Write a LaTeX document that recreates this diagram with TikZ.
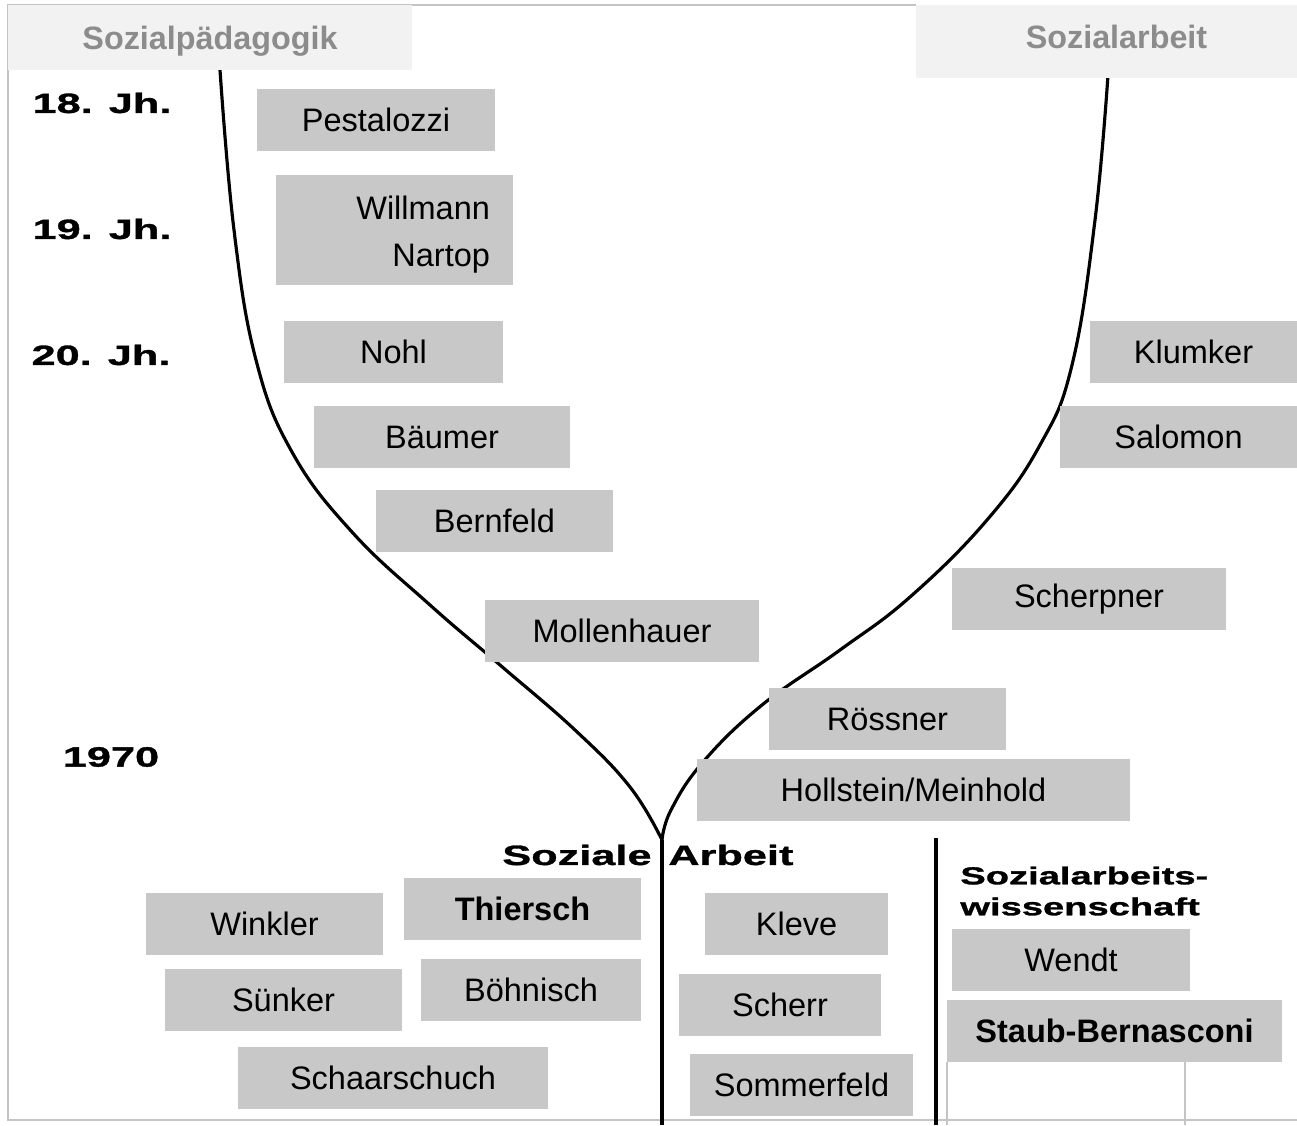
\documentclass[tikz,border=0pt]{standalone}
\usepackage{fontspec}
\usepackage{tikz}
\setmainfont{Liberation Sans}
\newfontfamily\scanfont[FakeStretch=1.55, FakeBold=1.2]{Liberation Sans}
\definecolor{boxgray}{HTML}{C8C8C8}
\definecolor{headgray}{HTML}{F2F2F2}
\definecolor{headtext}{HTML}{8C8C8C}
\definecolor{framegray}{HTML}{C4C4C4}
\tikzstyle{person}=[rectangle, fill=boxgray, inner sep=0pt, minimum height=1.24cm, font=\fontsize{18.5}{22}\selectfont]
\tikzstyle{headbox}=[rectangle, fill=headgray, inner sep=0pt, text=headtext, text height=13.2pt, font=\fontsize{18.4}{22}\selectfont\bfseries]
\tikzstyle{era}=[inner sep=0pt, font=\scanfont\bfseries\fontsize{15.9}{19}\selectfont]
\tikzstyle{branch}=[line width=1.8pt, line cap=round, line join=round]

\begin{document}
\begin{tikzpicture}[x=0.02cm, y=-0.02cm]
    \useasboundingbox (0,0) rectangle (1297,1125);
    \draw[framegray, line width=0.6pt] (916,5) -- (8,5) -- (8,1120) -- (1297,1120);
    \draw[framegray, line width=0.6pt] (947,1125) -- (947,1062) (1185,1062) -- (1185,1125);
    % the two branches meet in the fork
    \coordinate (topL) at (220,70);
    \coordinate (topR) at (1108,75);
    \coordinate (fork) at (662,840);
    \coordinate (root) at (662,1125);
    \coordinate (divtop) at (936,838);
    \coordinate (divbot) at (936,1125);
    \draw[branch] plot[smooth, tension=0.7] coordinates {
        (topL) (234,230) (256,360) (292,452) (352,532) (430,605)
        (500,665) (575,730) (630,787) (fork)};
    \draw[branch] plot[smooth, tension=0.7] coordinates {
        (topR) (1095,220) (1072,365) (1040,445) (987,520) (910,597)
        (840,650) (762,705) (703,762) (671,810) (fork)};
    \draw[line width=2.3pt] (fork) -- (root);
    \draw[line width=1.8pt] (divtop) -- (divbot);
    % headings
    \node[headbox, minimum width=8.08cm, minimum height=1.30cm, text depth=0pt] (hdL) at (210,37.5) {Sozialpädagogik};
    \node[headbox, minimum width=7.62cm, minimum height=1.46cm, text depth=5.1pt, text width=7.62cm, align=center] (hdR) at (1106.5,41.5) {\hspace*{0.4cm}Sozialarbeit};
    % time axis
    \node[era] (e18) at (102,103) {18. Jh.};
    \node[era] (e19) at (102,229) {19. Jh.};
    \node[era] (e20) at (101,355) {20. Jh.};
    \node[era] (e70) at (111,757) {1970};
    \node[era, anchor=west] (sa) at (502,855) {Soziale\hspace{0.6em}Arbeit};
    \node[era, anchor=west, align=left, font=\scanfont\bfseries\fontsize{14}{17.6}\selectfont] (saw) at (960,891) {Sozialarbeits-\\wissenschaft};
    % left branch
    \node[person, minimum width=4.76cm] (pest) at (376,120) {Pestalozzi};
    \node[person, minimum width=4.74cm, minimum height=2.2cm, text width=3.82cm, inner xsep=0.46cm, align=right, text depth=25pt, font=\fontsize{18.5}{26.6}\selectfont] (will) at (394.5,230) {Willmann\\Nartop};
    \node[person, minimum width=4.38cm] (nohl) at (393.5,352) {Nohl};
    \node[person, minimum width=5.12cm] (baum) at (442,437) {Bäumer};
    \node[person, minimum width=4.74cm] (bern) at (494.5,521) {Bernfeld};
    \node[person, minimum width=5.48cm] (moll) at (622,631) {Mollenhauer};
    % right branch
    \node[person, minimum width=4.14cm] (klum) at (1193.5,352) {Klumker};
    \node[person, minimum width=4.74cm] (salo) at (1178.5,437) {Salomon};
    \node[person, minimum width=5.48cm] (schp) at (1089,599) {Scherpner};
    \node[person, minimum width=4.74cm] (roes) at (887.5,719) {Rössner};
    \node[person, minimum width=8.66cm] (holl) at (913.5,790) {Hollstein/Meinhold};
    % below the fork
    \node[person, minimum width=4.74cm] (wink) at (264.5,924) {Winkler};
    \node[person, minimum width=4.74cm, font=\fontsize{18.5}{22}\selectfont\bfseries] (thie) at (522.5,909) {Thiersch};
    \node[person, minimum width=4.74cm] (sunk) at (283.5,1000) {Sünker};
    \node[person, minimum width=4.40cm] (bohn) at (531,990) {Böhnisch};
    \node[person, minimum width=6.20cm] (schu) at (393,1078) {Schaarschuch};
    \node[person, minimum width=3.66cm] (klev) at (796.5,924) {Kleve};
    \node[person, minimum width=4.04cm] (sche) at (780,1005) {Scherr};
    \node[person, minimum width=4.46cm] (somm) at (801.5,1085) {Sommerfeld};
    \node[person, minimum width=4.76cm] (wend) at (1071,960) {Wendt};
    \node[person, minimum width=6.70cm, font=\fontsize{18.5}{22}\selectfont\bfseries] (stau) at (1114.5,1031) {Staub-Bernasconi};
\end{tikzpicture}
\end{document}
